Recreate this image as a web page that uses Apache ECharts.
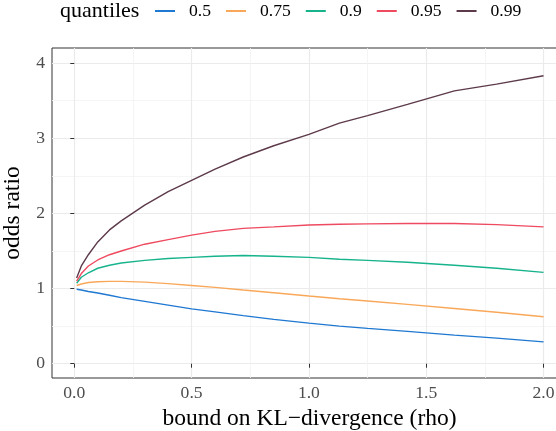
<!DOCTYPE html>
<html>
<head>
<meta charset="utf-8">
<script src="https://cdn.jsdelivr.net/npm/echarts@6/dist/echarts.min.js"></script>
<style>html,body{margin:0;padding:0;background:#fff}#c{width:556px;height:431px}</style>
</head>
<body>
<div id="c"></div>
<script>
const rho = [0.01, 0.03, 0.06, 0.1, 0.15, 0.2, 0.3, 0.4, 0.5, 0.6, 0.72, 0.85, 1.0, 1.13, 1.25, 1.42, 1.62, 1.8, 2.0];
const q050 = [0.99, 0.98, 0.96, 0.94, 0.91, 0.88, 0.83, 0.78, 0.73, 0.69, 0.64, 0.59, 0.54, 0.50, 0.47, 0.43, 0.38, 0.34, 0.29];
const q075 = [1.04, 1.06, 1.08, 1.09, 1.095, 1.095, 1.085, 1.065, 1.04, 1.015, 0.98, 0.945, 0.90, 0.865, 0.835, 0.79, 0.735, 0.685, 0.625];
const q090 = [1.07, 1.15, 1.21, 1.27, 1.31, 1.34, 1.375, 1.40, 1.415, 1.43, 1.44, 1.43, 1.415, 1.39, 1.375, 1.35, 1.31, 1.27, 1.215];
const q095 = [1.10, 1.20, 1.30, 1.38, 1.45, 1.50, 1.59, 1.65, 1.71, 1.76, 1.80, 1.82, 1.845, 1.855, 1.86, 1.865, 1.865, 1.85, 1.82];
const q099 = [1.14, 1.30, 1.45, 1.62, 1.78, 1.90, 2.11, 2.29, 2.44, 2.59, 2.75, 2.90, 3.05, 3.20, 3.30, 3.45, 3.63, 3.72, 3.83];
const seriesNames = ['0.5', '0.75', '0.9', '0.95', '0.99'];
const seriesValues = [q050, q075, q090, q095, q099];
const colors = ['#1f78d1', '#f9a85a', '#17b38c', '#ee4a60', '#5c3a4a'];
const xTicks = [0, 0.5, 1.0, 1.5, 2.0];
const xMinor = [0.25, 0.75, 1.25, 1.75];
const yTicks = [0, 1, 2, 3, 4];
const yMinor = [0.5, 1.5, 2.5, 3.5];

const FONT = '"Liberation Serif", "Times New Roman", serif';
const chart = echarts.init(document.getElementById('c'), null, {renderer: 'canvas'});
const xMin = -0.095, xMax = 2.1, yMin = -0.19, yMax = 4.2;

const option = {
  animation: false,
  color: colors,
  grid: {left: 52, top: 48, right: -11, bottom: 53, outerBoundsMode: 'none', containLabel: false,
         show: true, borderColor: '#333333', borderWidth: 1, backgroundColor: 'transparent'},
  graphic: [{
    type: 'text', left: 60, top: 0,
    style: {text: 'quantiles', font: '22px ' + FONT, fill: '#000'}
  }],
  legend: {
    left: 150, top: -3, icon: 'rect', itemWidth: 20, itemHeight: 2, itemGap: 15,
    textStyle: {fontFamily: FONT, fontSize: 17.6, color: '#000', padding: [0, 0, 0, 9]},
    data: seriesNames
  },
  xAxis: [{
    type: 'value', min: xMin, max: xMax,
    name: 'bound on KL\u2212divergence (rho)', nameLocation: 'middle', nameGap: 24,
    nameTextStyle: {fontFamily: FONT, fontSize: 23.5, color: '#000'},
    axisLine: {show: false},
    axisTick: {show: true, length: 4, lineStyle: {color: '#333'}, customValues: xTicks},
    axisLabel: {customValues: xTicks, formatter: v => v.toFixed(1), fontFamily: FONT, fontSize: 17.6, color: '#4d4d4d', margin: 6},
    splitLine: {show: true, lineStyle: {color: '#ebebeb', width: 1.2}}
  }, {
    type: 'value', min: xMin, max: xMax, position: 'bottom',
    axisLine: {show: false},
    axisTick: {show: false, customValues: xMinor},
    axisLabel: {show: false, customValues: xMinor},
    splitLine: {show: true, lineStyle: {color: '#f3f3f3', width: 0.8}}
  }],
  yAxis: [{
    type: 'value', min: yMin, max: yMax,
    name: 'odds ratio', nameLocation: 'middle', nameGap: 22,
    nameTextStyle: {fontFamily: FONT, fontSize: 23.5, color: '#000'},
    axisLine: {show: false},
    axisTick: {show: true, length: 4, lineStyle: {color: '#333'}, customValues: yTicks},
    axisLabel: {customValues: yTicks, formatter: v => String(Math.round(v)), fontFamily: FONT, fontSize: 17.6, color: '#4d4d4d', margin: 7},
    splitLine: {show: true, lineStyle: {color: '#ebebeb', width: 1.2}}
  }, {
    type: 'value', min: yMin, max: yMax, position: 'left',
    axisLine: {show: false},
    axisTick: {show: false, customValues: yMinor},
    axisLabel: {show: false, customValues: yMinor},
    splitLine: {show: true, lineStyle: {color: '#f3f3f3', width: 0.8}}
  }],
  series: seriesNames.map((n, i) => ({
    name: n, type: 'line', xAxisIndex: 0, yAxisIndex: 0,
    showSymbol: false, symbol: 'none',
    lineStyle: {width: 1.4, color: colors[i]},
    itemStyle: {color: colors[i]},
    data: rho.map((x, k) => [x, seriesValues[i][k]]),
    z: 3
  }))
};
chart.setOption(option);
</script>
</body>
</html>
